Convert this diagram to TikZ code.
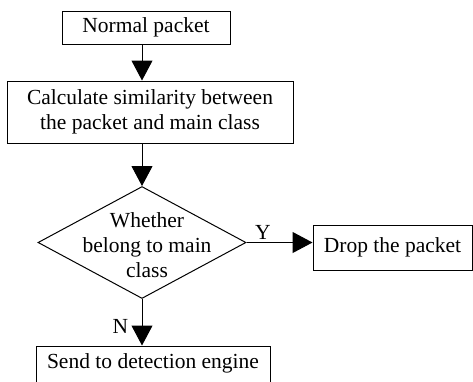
\documentclass[tikz,border=0pt]{standalone}
\usepackage{fontspec}
\setmainfont{Liberation Serif}
\usetikzlibrary{arrows.meta,shapes.geometric}

\begin{document}
\begin{tikzpicture}[
    x=1pt, y=-1pt,
    >={Triangle[length=20pt,width=21pt]},
    every node/.style = {font=\fontsize{21.5}{25}\selectfont},
    box/.style  = {draw, line width=1pt, rectangle, inner sep=0pt, align=center},
    dia/.style  = {draw, line width=1pt, diamond, inner sep=0pt,
                   minimum width=208pt, minimum height=112pt},
    flow/.style = {->, line width=1pt},
  ]
	\clip (0,0) rectangle (473,381);
	\useasboundingbox (0,0) rectangle (473,381);
	
	% Kaesten
	\node (norm) at (146,27.5) [box, minimum width=168pt, minimum height=33pt] {Normal packet};
	\node (calc) at (150,112) [box, minimum width=286pt, minimum height=62pt]
		{Calculate similarity between\\the packet and main class};
	\node (dec) at (142,242.5) [dia,
		label={[align=center, xshift=5pt, yshift=-3pt]center:Whether\\belong to main\\class}] {};
	\node (drop) at (392.5,247.5) [box, minimum width=159pt, minimum height=45pt] {Drop the packet};
	\node (send) at (153,365.5) [box, minimum width=234pt, minimum height=39pt, text depth=8pt] {Send to detection engine};
	
	% Pfeile
	\draw[flow] (norm.south -| dec) -- (calc.north -| dec);
	\draw[flow] (calc.south -| dec) -- (dec.north);
	\draw[flow] (dec.east) -- node[pos=0.25, above=-1pt] {Y} (dec.east -| drop.west);
	\draw[flow] (dec.south) -- node[pos=0.6, left=10pt] {N} (dec.south |- send.north);
\end{tikzpicture}
\end{document}
